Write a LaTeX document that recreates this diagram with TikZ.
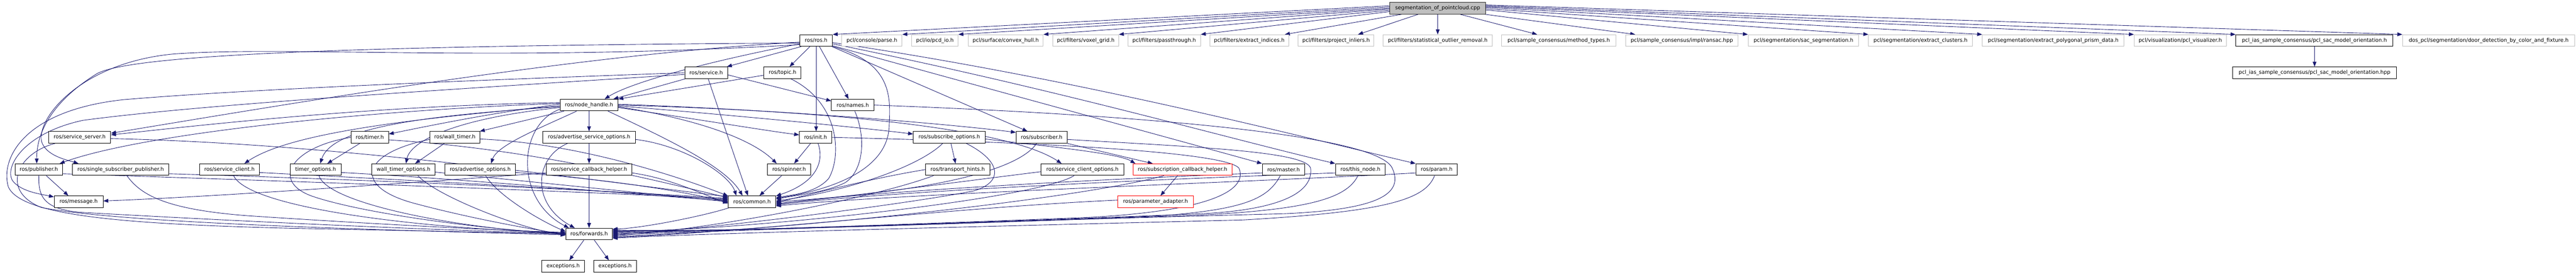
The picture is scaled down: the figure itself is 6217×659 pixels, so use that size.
\documentclass[tikz,border=0pt]{standalone}
\usepackage{fontspec}
\setmainfont{DejaVu Sans}
\usetikzlibrary{arrows.meta,calc}
\definecolor{edgec}{HTML}{191970}
\definecolor{grayb}{HTML}{BFBFBF}
\newcommand\nodefnt{\fontsize{12.6pt}{15pt}\selectfont}
\pgfdeclarelayer{edges}
\pgfsetlayers{edges,main}
\begin{document}
\begin{tikzpicture}[x=1pt,y=-1pt,
  box/.style={draw=black, fill=white, line width=1.2pt, minimum height=28pt, inner xsep=0pt, inner ysep=0pt, font=\nodefnt},
  gbox/.style={box, draw=grayb},
  rbox/.style={box, draw=red},
  mbox/.style={box, fill=grayb, draw=black!85},
  e/.style={draw=edgec, line width=1.1pt, -{Triangle[length=12pt,width=9pt]}}
]
\useasboundingbox (0,0) rectangle (6217,659);
% ---------- nodes ----------
\node[mbox, minimum width=231pt] (T) at (3469.8,19.9) {segmentation\_of\_pointcloud.cpp};
% row 1
\node[box, minimum width=78.7pt] (ros) at (1969.7,97.6) {ros/ros.h};
\node[gbox, minimum width=145.7pt] (parse) at (2104.2,97.6) {pcl/console/parse.h};
\node[gbox, minimum width=112pt] (pcd) at (2256.3,97.6) {pcl/io/pcd\_io.h};
\node[gbox, minimum width=181pt] (hull) at (2427.2,97.6) {pcl/surface/convex\_hull.h};
\node[gbox, minimum width=158.7pt] (voxel) at (2620.3,97.6) {pcl/filters/voxel\_grid.h};
\node[gbox, minimum width=175pt] (pass) at (2809.8,97.6) {pcl/filters/passthrough.h};
\node[gbox, minimum width=190.6pt] (extr) at (3015,97.6) {pcl/filters/extract\_indices.h};
\node[gbox, minimum width=183pt] (proj) at (3224.5,97.6) {pcl/filters/project\_inliers.h};
\node[gbox, minimum width=263pt] (stat) at (3469.8,97.6) {pcl/filters/statistical\_outlier\_removal.h};
\node[gbox, minimum width=275pt] (meth) at (3761.8,97.6) {pcl/sample\_consensus/method\_types.h};
\node[gbox, minimum width=272pt] (ransac) at (4059,97.6) {pcl/sample\_consensus/impl/ransac.hpp};
\node[gbox, minimum width=267pt] (sacseg) at (4352.5,97.6) {pcl/segmentation/sac\_segmentation.h};
\node[gbox, minimum width=250.6pt] (clus) at (4635,97.6) {pcl/segmentation/extract\_clusters.h};
\node[gbox, minimum width=342pt] (prism) at (4955.3,97.6) {pcl/segmentation/extract\_polygonal\_prism\_data.h};
\node[gbox, minimum width=222.4pt] (vis) at (5261.8,97.6) {pcl/visualization/pcl\_visualizer.h};
\node[box, minimum width=379.2pt] (ori) at (5585.6,97.6) {pcl\_ias\_sample\_consensus/pcl\_sac\_model\_orientation.h};
\node[gbox, minimum width=415.5pt] (door) at (6006.2,97.6) {dos\_pcl/segmentation/door\_detection\_by\_color\_and\_fixture.h};
% row 2
\node[box, minimum width=103pt] (srv) at (1704.2,175.3) {ros/service.h};
\node[box, minimum width=89.6pt] (topic) at (1888.5,175.3) {ros/topic.h};
\node[box, minimum width=395.9pt] (orihpp) at (5586,175.3) {pcl\_ias\_sample\_consensus/pcl\_sac\_model\_orientation.hpp};
% row 3
\node[box, minimum width=140pt] (nh) at (1421.7,253.2) {ros/node\_handle.h};
\node[box, minimum width=102.6pt] (names) at (2058,253.2) {ros/names.h};
% row 4
\node[box, minimum width=150pt] (ssrv) at (192.3,331) {ros/service\_server.h};
\node[box, minimum width=90.7pt] (timer) at (892.3,331) {ros/timer.h};
\node[box, minimum width=121.3pt] (wtimer) at (1097.7,331) {ros/wall\_timer.h};
\node[box, minimum width=223pt] (aso) at (1421.8,331) {ros/advertise\_service\_options.h};
\node[box, minimum width=78pt] (init) at (1968.3,331) {ros/init.h};
\node[box, minimum width=173.4pt] (subo) at (2291,331) {ros/subscribe\_options.h};
\node[box, minimum width=123pt] (sub) at (2513.8,331) {ros/subscriber.h};
% row 5
\node[box, minimum width=115.3pt] (pub) at (93.7,408.7) {ros/publisher.h};
\node[box, minimum width=232.3pt] (ssp) at (291.2,408.7) {ros/single\_subscriber\_publisher.h};
\node[box, minimum width=144.3pt] (scli) at (553.8,408.7) {ros/service\_client.h};
\node[box, minimum width=123pt] (topt) at (761.8,408.7) {timer\_options.h};
\node[box, minimum width=152.3pt] (wtopt) at (973.8,408.7) {wall\_timer\_options.h};
\node[box, minimum width=170.6pt] (ao) at (1159,408.7) {ros/advertise\_options.h};
\node[box, minimum width=206.7pt] (sch) at (1421.7,408.7) {ros/service\_callback\_helper.h};
\node[box, minimum width=104.4pt] (spin) at (1904.5,408.7) {ros/spinner.h};
\node[box, minimum width=155pt] (th) at (2311.2,408.7) {ros/transport\_hints.h};
\node[box, minimum width=199.3pt] (sco) at (2612.3,408.7) {ros/service\_client\_options.h};
\node[rbox, minimum width=238.6pt] (subch) at (2854,408.7) {ros/subscription\_callback\_helper.h};
\node[box, minimum width=103pt] (master) at (3097.8,408.7) {ros/master.h};
\node[box, minimum width=120.3pt] (thisnode) at (3283.2,408.7) {ros/this\_node.h};
\node[box, minimum width=100.3pt] (param) at (3467.2,408.7) {ros/param.h};
% row 6
\node[box, minimum width=118pt] (msg) at (189.7,486.2) {ros/message.h};
\node[box, minimum width=114.6pt] (common) at (1815,486.2) {ros/common.h};
\node[rbox, minimum width=182.7pt] (padapt) at (2788.7,486.2) {ros/parameter\_adapter.h};
% row 7, 8
\node[box, minimum width=112pt] (fwd) at (1421.7,564) {ros/forwards.h};
\node[box, minimum width=103.4pt] (exc1) at (1359,641.8) {exceptions.h};
\node[box, minimum width=102.4pt] (exc2) at (1484.5,641.8) {exceptions.h};

% ---------- edges ----------
\begin{pgfonlayer}{edges}
% main file
\draw[e] ($(T.west)+(0,-6)$) -- (ros.north east);
\draw[e] ($(T.west)+(0,-3)$) -- (parse.north east);
\draw[e] (T.west) -- (pcd.north east);
\draw[e] ($(T.west)+(0,2)$) -- (hull.north east);
\draw[e] ($(T.west)+(0,5)$) -- (voxel.north east);
\draw[e] ($(T.west)+(0,8)$) -- (pass.north east);
\draw[e] ($(T.south west)+(29,0)$) -- ($(extr.north east)+(-10,0)$);
\draw[e] ($(T.south west)+(69,0)$) -- ($(proj.north east)+(-39,0)$);
\draw[e] (T.south) -- (stat.north);
\draw[e] ($(T.south east)+(-62,0)$) -- ($(meth.north west)+(86,0)$);
\draw[e] ($(T.south east)+(-2,0)$) -- ($(ransac.north west)+(24,0)$);
\draw[e] ($(T.east)+(0,4)$) -- (sacseg.north west);
\draw[e] ($(T.east)+(0,1)$) -- (clus.north west);
\draw[e] ($(T.east)+(0,-2)$) -- (prism.north west);
\draw[e] ($(T.east)+(0,-4)$) -- (vis.north west);
\draw[e] ($(T.east)+(0,-6)$) -- (ori.north west);
\draw[e] ($(T.east)+(0,-8)$) -- (door.north west);
\draw[e] (orihpp.north |- ori.south) -- (orihpp.north);
% ros.h
\draw[e] ($(ros.south west)+(4,0)$) -- ($(srv.north east)+(-2,0)$);
\draw[e] ($(ros.south)+(-15,0)$) -- ($(topic.north)+(17,0)$);
\draw[e] (ros.south) -- (ros.south |- init.north);
\draw[e] ($(ros.south)+(8,0)$) -- ($(names.north)+(-10,0)$);
\draw[e] ($(ros.west)+(0,8)$) .. controls (1700,150) and (1520,200) .. ($(nh.north east)+(-33,0)$);
\draw[e] ($(ros.west)+(0,4)$) .. controls (1400,130) and (700,250) .. ($(ssrv.east)+(0,-10)$);
\draw[e] ($(ros.west)+(0,6)$) .. controls (900,110) and (300,130) .. (230,180) .. controls (150,230) and (88,300) .. ($(pub.north)+(-5,0)$);
\draw[e] ($(ros.west)+(0,10)$) .. controls (1200,150) and (700,110) .. (420,130) .. controls (200,150) and (90,280) .. (100,340) .. controls (110,375) and (160,385) .. ($(ssp.north west)+(15,0)$);
\draw[e] ($(ros.south east)+(-2,0)$) -- ($(sub.north)+(-34,0)$);
\draw[e] ($(ros.south east)+(0,-2)$) .. controls (2500,245) and (2850,340) .. (master.north west);
\draw[e] ($(ros.east)+(0,8)$) .. controls (2550,215) and (2950,330) .. (thisnode.north west);
\draw[e] ($(ros.east)+(0,5)$) .. controls (2600,190) and (3100,320) .. (param.north west);
\draw[e] (ros.south east) .. controls (2150,150) and (2150,230) .. (2146,300) .. controls (2146,390) and (2050,450) .. ($(common.east)+(0,-8)$);
% service.h
\draw[e] ($(srv.south west)+(2,0)$) -- ($(nh.north east)+(-12,0)$);
\draw[e] ($(srv.east)+(0,5)$) -- ($(names.west)+(0,-10)$);
\draw[e] ($(srv.south)+(5,0)$) -- ($(common.north)+(-10,0)$);
\draw[e] (srv.west) .. controls (1100,195) and (600,215) .. (300,240) .. controls (60,265) and (0,380) .. (20,450) .. controls (50,520) and (300,540) .. (700,550) .. controls (1100,558) and (1300,562) .. (fwd.west);
\draw[e] ($(srv.west)+(0,4)$) .. controls (1100,215) and (500,250) .. (200,290) .. controls (60,320) and (10,400) .. (30,435) .. controls (50,462) and (100,468) .. ($(msg.north west)+(0,3)$);
% topic.h
\draw[e] ($(topic.west)+(0,6)$) -- (nh.north east);
\draw[e] ($(topic.south)+(20,0)$) .. controls (2030,250) and (2030,380) .. (2000,430) .. controls (1970,465) and (1910,470) .. ($(common.east)+(0,-10)$);
% names.h
\draw[e] ($(names.south)+(5,0)$) .. controls (2090,330) and (2085,410) .. (2040,440) .. controls (1990,465) and (1920,470) .. ($(common.east)+(0,-6)$);
\draw[e] (names.east) .. controls (2700,275) and (3320,320) .. (3360,405) .. controls (3390,470) and (3320,505) .. (3100,515) .. controls (2500,530) and (1800,555) .. ($(fwd.east)+(0,-4)$);
% node_handle.h
\draw[e] ($(nh.west)+(0,10)$) .. controls (1250,300) and (1240,480) .. ($(fwd.north west)+(8,0)$);
\draw[e] ($(nh.west)+(0,-4)$) .. controls (900,265) and (350,320) .. ($(pub.north east)+(-8,0)$);
\draw[e] ($(nh.west)+(0,-6)$) .. controls (900,255) and (500,300) .. ($(ssrv.east)+(0,-6)$);
\draw[e] ($(nh.west)+(0,2)$) .. controls (1000,285) and (700,320) .. ($(scli.north)+(36,0)$);
\draw[e] ($(nh.west)+(0,-2)$) .. controls (1200,270) and (1050,300) .. ($(timer.east)+(0,-8)$);
\draw[e] ($(nh.west)+(0,4)$) .. controls (1000,280) and (800,310) .. ($(topt.north)+(11,0)$);
\draw[e] ($(nh.south west)+(10,0)$) -- ($(wtimer.north east)+(-1,0)$);
\draw[e] ($(nh.west)+(0,6)$) .. controls (1100,285) and (990,340) .. ($(wtopt.north)+(6,0)$);
\draw[e] ($(nh.south)+(-30,0)$) .. controls (1300,310) and (1200,350) .. ($(ao.north)+(26,0)$);
\draw[e] (nh.south) -- (nh.south |- aso.north);
\draw[e] ($(nh.east)+(0,4)$) .. controls (1700,290) and (1820,340) .. ($(spin.north)+(-30,0)$);
\draw[e] ($(nh.east)+(0,6)$) .. controls (1700,290) and (1850,315) .. ($(init.west)+(0,-6)$);
\draw[e] ($(nh.east)+(0,2)$) .. controls (1800,280) and (2100,310) .. ($(subo.west)+(0,-8)$);
\draw[e] ($(nh.east)+(0,-2)$) .. controls (1900,265) and (2300,300) .. ($(sub.west)+(0,-12)$);
\draw[e] (nh.east) .. controls (2100,270) and (2450,320) .. ($(sco.north west)+(50,0)$);
\draw[e] ($(nh.south east)+(-25,0)$) .. controls (1600,330) and (1750,400) .. ($(common.north west)+(35,0)$);
% publisher.h
\draw[e] ($(pub.south)+(18,0)$) -- ($(msg.north west)+(35,0)$);
\draw[e] (pub.south) .. controls (93,470) and (100,505) .. (200,512) .. controls (700,540) and (1150,558) .. ($(fwd.west)+(0,-2)$);
\draw[e] ($(pub.east)+(0,10)$) .. controls (500,430) and (1400,460) .. ($(common.west)+(0,-6)$);
% single_subscriber_publisher.h
\draw[e] ($(ssp.south)+(15,0)$) .. controls (340,470) and (400,505) .. (600,520) .. controls (900,540) and (1200,555) .. ($(fwd.west)+(0,-4)$);
\draw[e] ($(ssp.east)+(0,10)$) .. controls (800,430) and (1400,455) .. ($(common.west)+(0,-8)$);
% service_server.h
\draw[e] ($(ssrv.east)+(0,3)$) .. controls (800,345) and (1400,430) .. ($(common.west)+(0,-12)$);
\draw[e] ($(ssrv.south west)+(16,0)$) .. controls (40,370) and (0,460) .. (100,500) .. controls (300,540) and (1000,556) .. ($(fwd.west)+(0,2)$);
% service_client.h
\draw[e] ($(scli.south)+(10,0)$) .. controls (600,500) and (1000,550) .. ($(fwd.west)+(0,-3)$);
\draw[e] ($(scli.east)+(0,7)$) .. controls (900,430) and (1500,460) .. ($(common.west)+(0,-4)$);
% timer.h
\draw[e] ($(timer.south)+(-24,0)$) -- ($(topt.north)+(28,0)$);
\draw[e] (timer.west) .. controls (700,355) and (650,440) .. (760,475) .. controls (900,520) and (1200,555) .. ($(fwd.west)+(0,-1)$);
\draw[e] ($(timer.east)+(0,6)$) .. controls (1300,360) and (1600,440) .. ($(common.west)+(0,-10)$);
% timer_options.h
\draw[e] ($(topt.south)+(8,0)$) .. controls (790,490) and (1100,550) .. (fwd.west);
\draw[e] ($(topt.east)+(0,7)$) .. controls (1100,430) and (1550,470) .. ($(common.west)+(0,-2)$);
% wall_timer.h
\draw[e] ($(wtimer.south west)+(36,0)$) -- ($(wtopt.north)+(28,0)$);
\draw[e] ($(wtimer.west)+(0,5)$) .. controls (870,370) and (850,450) .. (1000,490) .. controls (1150,530) and (1300,555) .. ($(fwd.west)+(0,1)$);
\draw[e] ($(wtimer.east)+(0,4)$) .. controls (1400,345) and (1650,430) .. ($(common.west)+(0,-14)$);
% wall_timer_options.h
\draw[e] ($(wtopt.south)+(35,0)$) .. controls (1050,470) and (1250,550) .. ($(fwd.west)+(0,3)$);
\draw[e] ($(wtopt.east)+(0,6)$) .. controls (1300,440) and (1600,470) .. (common.west);
% advertise_options.h
\draw[e] ($(ao.south)+(13,0)$) .. controls (1200,470) and (1300,530) .. ($(fwd.west)+(0,-6)$);
\draw[e] ($(ao.east)+(0,7)$) .. controls (1450,430) and (1650,460) .. ($(common.west)+(0,2)$);
% advertise_service_options.h
\draw[e] (aso.south) -- (aso.south |- sch.north);
\draw[e] ($(aso.south west)+(60,0)$) .. controls (1290,380) and (1280,490) .. ($(fwd.north west)+(22,0)$);
\draw[e] ($(aso.east)+(0,5)$) .. controls (1650,350) and (1760,420) .. ($(common.north west)+(20,0)$);
% service_callback_helper.h
\draw[e] (sch.south) -- (sch.south |- fwd.north);
\draw[e] ($(sch.east)+(0,8)$) .. controls (1620,430) and (1700,470) .. ($(common.west)+(0,4)$);
\draw[e] ($(sch.west)+(0,8)$) .. controls (1000,440) and (500,475) .. ($(msg.east)+(0,-2)$);
% spinner.h
\draw[e] ($(spin.south)+(-18,0)$) -- ($(common.north east)+(-40,0)$);
% init.h
\draw[e] ($(init.south)+(-12,0)$) -- ($(spin.north)+(12,0)$);
\draw[e] ($(init.south)+(6,0)$) .. controls (1990,390) and (1970,440) .. ($(common.east)+(0,-14)$);
\draw[e] (init.east) .. controls (2600,345) and (2960,370) .. (2990,405) .. controls (3010,450) and (2950,510) .. (2600,525) .. controls (2200,540) and (1700,558) .. ($(fwd.east)+(0,-2)$);
% subscribe_options.h
\draw[e] ($(subo.south)+(4,0)$) -- ($(th.north)+(-5,0)$);
\draw[e] ($(subo.east)+(0,4)$) .. controls (2550,355) and (2700,370) .. ($(subch.north west)+(6,0)$);
\draw[e] ($(subo.south)+(-16,0)$) .. controls (2220,400) and (2050,460) .. ($(common.east)+(0,-2)$);
\draw[e] ($(subo.south)+(41,0)$) .. controls (2420,390) and (2420,440) .. (2350,460) .. controls (2200,490) and (1700,555) .. (fwd.east);
% subscriber.h
\draw[e] (sub.south east) -- ($(subch.north west)+(48,0)$);
\draw[e] ($(sub.east)+(0,5)$) .. controls (2900,355) and (3150,365) .. (3163,405) .. controls (3170,460) and (3100,505) .. (2900,515) .. controls (2400,535) and (1700,558) .. ($(fwd.east)+(0,2)$);
\draw[e] ($(sub.south)+(-12,0)$) .. controls (2450,420) and (2200,465) .. (common.east);
% transport_hints.h
\draw[e] (th.west) .. controls (2100,430) and (1950,470) .. ($(common.east)+(0,2)$);
\draw[e] ($(th.south west)+(20,0)$) .. controls (2100,480) and (1700,555) .. ($(fwd.east)+(0,4)$);
% service_client_options.h
\draw[e] ($(sco.west)+(0,5)$) .. controls (2300,440) and (2000,480) .. ($(common.east)+(0,4)$);
\draw[e] ($(sco.south)+(-20,0)$) .. controls (2500,480) and (1800,555) .. ($(fwd.east)+(0,-6)$);
% subscription_callback_helper.h
\draw[e] ($(subch.south)+(-12,0)$) -- ($(padapt.north)+(12,0)$);
\draw[e] ($(subch.south west)+(75,0)$) .. controls (2600,480) and (1900,555) .. ($(fwd.east)+(0,6)$);
% parameter_adapter.h
\draw[e] ($(padapt.west)+(0,-4)$) .. controls (2300,500) and (1800,560) .. ($(fwd.east)+(0,8)$);
% master.h
\draw[e] ($(master.south)+(-8,0)$) .. controls (3060,480) and (3000,505) .. (2800,520) .. controls (2300,540) and (1700,560) .. ($(fwd.east)+(0,-8)$);
\draw[e] ($(master.west)+(0,8)$) .. controls (2700,430) and (2100,460) .. ($(common.east)+(0,6)$);
% this_node.h
\draw[e] ($(thisnode.south)+(-6,0)$) .. controls (3250,480) and (3150,505) .. (2900,518) .. controls (2300,540) and (1700,560) .. ($(fwd.east)+(0,-10)$);
\draw[e] ($(thisnode.west)+(0,8)$) .. controls (2700,435) and (2100,465) .. ($(common.east)+(0,8)$);
% param.h
\draw[e] ($(param.south)+(-5,0)$) .. controls (3440,480) and (3350,510) .. (3000,530) .. controls (2400,545) and (1700,562) .. ($(fwd.east)+(0,10)$);
\draw[e] ($(param.west)+(0,8)$) .. controls (3000,440) and (2200,465) .. ($(common.east)+(0,10)$);
% common.h
\draw[e] ($(common.south west)+(2,0)$) .. controls (1700,520) and (1550,550) .. ($(fwd.east)+(0,-12)$);
% forwards.h
\draw[e] ($(fwd.south west)+(44,0)$) -- ($(exc1.north)+(15,0)$);
\draw[e] ($(fwd.south east)+(-44,0)$) -- ($(exc2.north)+(-15,0)$);
\end{pgfonlayer}
\end{tikzpicture}
\end{document}
